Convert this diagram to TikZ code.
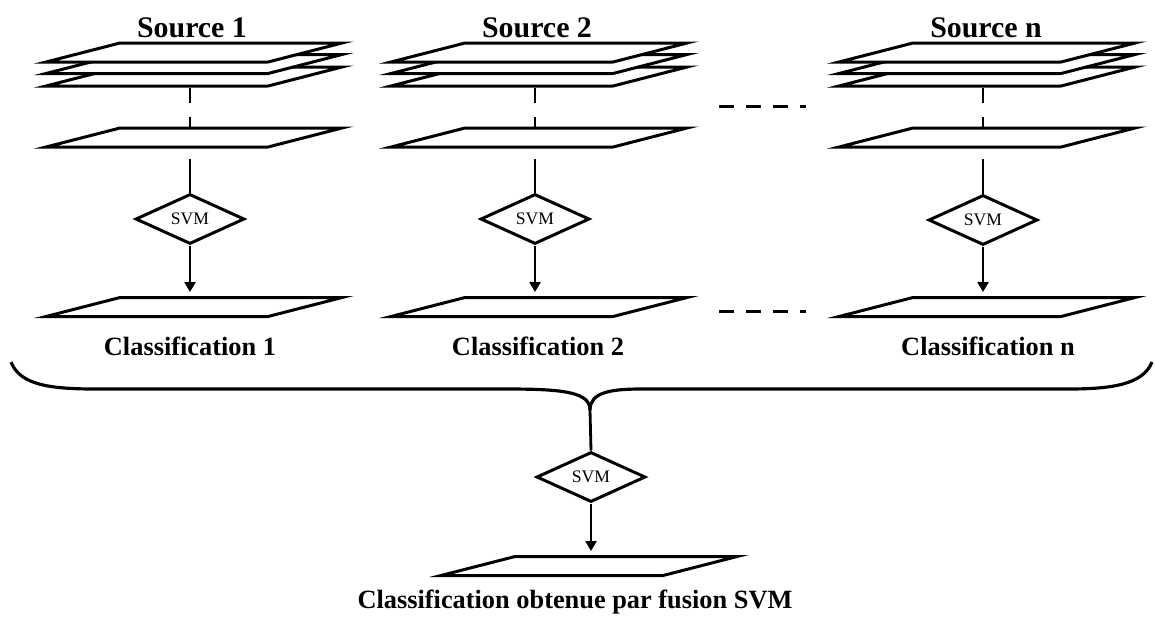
\documentclass[tikz,border=0pt]{standalone}
\usepackage{fontspec}
\setmainfont{Liberation Serif}
\usetikzlibrary{shapes.geometric, arrows.meta, positioning, calc}

\begin{document}
\begin{tikzpicture}[
    layer/.style={trapezium, trapezium left angle=14.4, trapezium right angle=165.6,
        draw, line width=1.7pt, fill=white, inner xsep=1.48cm, inner ysep=0.19cm},
    svm/.style={diamond, draw, line width=1.7pt, fill=white, inner sep=0pt, aspect=2.18,
        minimum width=2.18cm, minimum height=1.0cm, font=\fontsize{10}{12}\selectfont},
    head/.style={anchor=base, font=\fontsize{17}{20}\selectfont\bfseries},
    lab/.style={anchor=base, font=\fontsize{15}{18}\selectfont\bfseries},
    link/.style={line width=1.6pt},
    arrow/.style={-{Triangle[length=0.2cm,width=0.22cm]}, line width=1.6pt, shorten >=0.08cm},
    dots/.style={line width=1.7pt, dash pattern=on 0.3cm off 0.24cm}
]
\useasboundingbox (0,0) rectangle (23.1,-12.34);
% source 1
\node[head] (h1) at (3.84,-0.74) {Source 1};
\node[layer] (bot1) at (3.88,-1.53) {};
\node[layer] (mid1) at (3.88,-1.28) {};
\node[layer] (top1) at (3.88,-1.05) {};
\node[layer] (p1) at (3.88,-2.75) {};
\node[svm] (v1) at (3.80,-4.38) {SVM};
\node[layer] (o1) at (3.88,-6.14) {};
\node[lab] (l1) at (3.80,-7.10) {Classification 1};
% source 2
\node[head] (h2) at (10.74,-0.74) {Source 2};
\node[layer] (bot2) at (10.78,-1.53) {};
\node[layer] (mid2) at (10.78,-1.28) {};
\node[layer] (top2) at (10.78,-1.05) {};
\node[layer] (p2) at (10.78,-2.75) {};
\node[svm] (v2) at (10.70,-4.38) {SVM};
\node[layer] (o2) at (10.78,-6.14) {};
\node[lab] (l2) at (10.76,-7.10) {Classification 2};
% source n
\node[head] (h3) at (19.72,-0.74) {Source n};
\node[layer] (bot3) at (19.74,-1.53) {};
\node[layer] (mid3) at (19.74,-1.28) {};
\node[layer] (top3) at (19.74,-1.05) {};
\node[layer] (p3) at (19.74,-2.75) {};
\node[svm] (v3) at (19.66,-4.40) {SVM};
\node[layer] (o3) at (19.74,-6.14) {};
\node[lab] (l3) at (19.76,-7.10) {Classification n};
% fusion
\coordinate (tip) at (11.80,-8.20);
\node[svm] (vf) at (11.82,-9.54) {SVM};
\node[layer] (of) at (11.78,-11.32) {};
\node[lab] (lf) at (11.50,-12.16) {Classification obtenue par fusion SVM};
% ellipsis between sources
\draw[dots] (14.38,-2.12) -- (16.12,-2.12);
\draw[dots] (14.38,-6.22) -- (16.12,-6.22);
% brace
\draw[line width=1.8pt] (0.22,-7.24) .. controls (0.40,-7.70) and (1.0,-7.78) .. (1.92,-7.78)
    -- (10.16,-7.78) .. controls (11.30,-7.78) and (11.80,-7.85) .. (tip);
\draw[line width=1.8pt] (23.04,-7.24) .. controls (22.86,-7.70) and (22.2,-7.78) .. (21.36,-7.78)
    -- (12.82,-7.78) .. controls (12.20,-7.78) and (11.80,-7.85) .. (tip);
% connectors
\foreach \c in {1,2,3} \draw[link, dash pattern=on 0.3cm off 0.28cm] (bot\c.south -| v\c.north) -- (p\c.north -| v\c.north);
\foreach \c in {1,2,3} \draw[link, shorten <=0.2cm] (p\c.south -| v\c.north) -- (v\c.north);
\foreach \c in {1,2,3} \draw[arrow] (v\c.south) -- (o\c.north -| v\c.south);
\draw[link] (tip) -- (vf.north);
\draw[arrow] (vf.south) -- (of.north -| vf.south);
\end{tikzpicture}
\end{document}
